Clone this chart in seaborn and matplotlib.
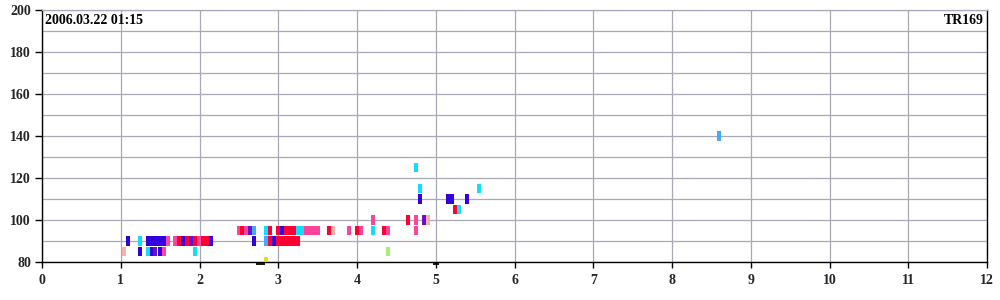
import matplotlib
matplotlib.use("Agg")
import matplotlib.pyplot as plt
import seaborn as sns
import pandas as pd

# ---- data ----
title_left = "2006.03.22 01:15"
title_right = "TR169"
x_ticks = list(range(0, 13))
y_ticks = [80, 100, 120, 140, 160, 180, 200]

palette = {
    "B": "#3300dd", "C": "#11ddff", "L": "#44aaff", "R": "#ff0033",
    "P": "#ff4499", "U": "#6611cc", "S": "#f5b0aa", "G": "#aaee77", "Y": "#dddd22",
}

row80_x = [2.845]
row80_c = ["Y"]
row85_x = [1.04, 1.245, 1.346, 1.397, 1.44, 1.498, 1.55, 1.943, 4.39]
row85_c = ["S", "B", "C", "B", "U", "B", "P", "C", "G"]
row90_x = [1.09, 1.245, 1.346, 1.397, 1.448, 1.498, 1.549, 1.60, 1.695, 1.74,
           1.79, 1.84, 1.89, 1.94, 1.99, 2.04, 2.095, 2.146,
           2.69, 2.845, 2.895, 2.946, 3.0, 3.05, 3.10, 3.15, 3.20, 3.25]
row90_c = ["B", "C", "B", "B", "B", "B", "B", "P", "P", "R",
           "B", "R", "U", "R", "P", "R", "R", "B",
           "B", "L", "R", "B", "R", "R", "R", "R", "R", "R"]
row95_x = [2.50, 2.546, 2.59, 2.64, 2.69, 2.845, 2.895, 2.997, 3.048, 3.098,
           3.149, 3.20, 3.25, 3.30, 3.35, 3.40, 3.45, 3.50, 3.645, 3.695,
           3.90, 4.0, 4.05, 4.20, 4.34, 4.39, 4.75]
row95_c = ["P", "R", "P", "U", "L", "C", "R", "R", "B", "R",
           "R", "R", "C", "C", "P", "P", "P", "P", "R", "S",
           "P", "R", "P", "C", "R", "P", "P"]
row100_x = [4.20, 4.65, 4.75, 4.85, 4.90]
row100_c = ["P", "R", "P", "U", "S"]
row105_x = [5.245, 5.295]
row105_c = ["R", "C"]
row110_x = [4.80, 5.156, 5.206, 5.40]
row110_c = ["B", "B", "B", "B"]
row115_x = [4.80, 5.55]
row115_c = ["C", "C"]
row125_x = [4.75]
row125_c = ["C"]
row140_x = [8.597]
row140_c = ["L"]

dash_x_start = [2.72, 4.965]
dash_x_end = [2.83, 5.035]
dash_y = [79.05, 79.05]

rows = [(80, row80_x, row80_c), (85, row85_x, row85_c), (90, row90_x, row90_c),
        (95, row95_x, row95_c), (100, row100_x, row100_c), (105, row105_x, row105_c),
        (110, row110_x, row110_c), (115, row115_x, row115_c), (125, row125_x, row125_c),
        (140, row140_x, row140_c)]
records = []
for yv, xs, cs in rows:
    for xv, cv in zip(xs, cs):
        records.append({"x": xv, "y": yv, "c": cv})
df = pd.DataFrame(records)

# ---- style ----
sns.set_style("white")
plt.rcParams["font.family"] = ["Liberation Serif", "DejaVu Serif"]
plt.rcParams["font.weight"] = "bold"

fig = plt.figure(figsize=(10, 3), dpi=100)
ax = fig.add_axes([0.042, 0.1267, 0.945, 0.84])

grid_col = "#a8a8b8"
cell_w = 0.052
cell_h = 4.6
ax.bar(df["x"], cell_h, width=cell_w, bottom=df["y"] - cell_h / 2,
       color=[palette[c] for c in df["c"]], linewidth=0, zorder=3)

for xs, xe, yv in zip(dash_x_start, dash_x_end, dash_y):
    ax.plot([xs, xe], [yv, yv], color="black", lw=1.3, clip_on=False, zorder=5,
            solid_capstyle="butt")

ax.set_xlim(0, 12)
ax.set_ylim(80, 200)
ax.set_xticks(x_ticks)
ax.set_yticks(y_ticks)
ax.set_xticklabels([str(v) for v in x_ticks], fontsize=10, fontweight="bold")
ax.set_yticklabels([str(v) for v in y_ticks], fontsize=10, fontweight="bold")
ax.yaxis.set_minor_locator(matplotlib.ticker.MultipleLocator(10))
ax.grid(True, which="both", axis="y", color=grid_col, lw=0.9)
ax.grid(True, which="major", axis="x", color=grid_col, lw=0.9)
ax.tick_params(axis="y", which="major", direction="out", length=5, width=1,
               color="black", pad=3, left=True)
ax.tick_params(axis="y", which="minor", length=0)
ax.tick_params(axis="x", direction="out", length=4, width=1, color="black",
               pad=5, bottom=True)
ax.set_axisbelow(True)

for side in ["left", "bottom", "right"]:
    ax.spines[side].set_color("black")
    ax.spines[side].set_linewidth(1.0)
ax.spines["top"].set_color(grid_col)
ax.spines["top"].set_linewidth(0.9)

ax.text(0.003, 0.985, title_left, transform=ax.transAxes, ha="left", va="top",
        fontsize=10, fontweight="bold", color="black")
ax.text(0.997, 0.985, title_right, transform=ax.transAxes, ha="right", va="top",
        fontsize=10, fontweight="bold", color="black")

fig.savefig("out.png", dpi=100)
